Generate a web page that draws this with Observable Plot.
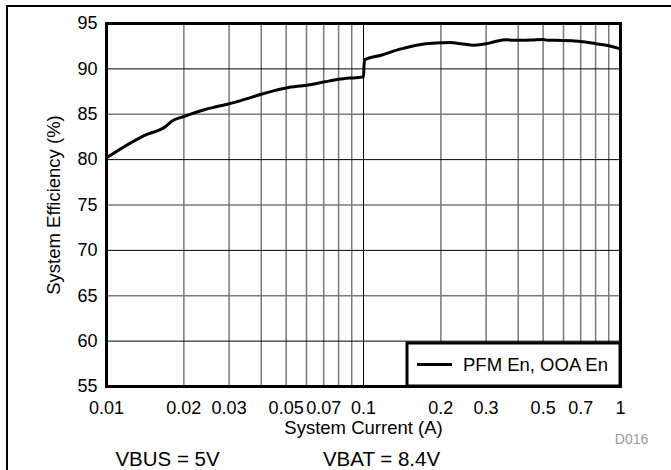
<!DOCTYPE html>
<html>
<head>
<meta charset="utf-8">
<script src="https://cdn.jsdelivr.net/npm/d3@7"></script>
<script src="https://cdn.jsdelivr.net/npm/@observablehq/plot@0.6"></script>
<style>
  html, body { margin: 0; padding: 0; background: #fff; }
  body { width: 671px; height: 470px; position: relative; overflow: hidden; font-family: "Liberation Sans", Arial, sans-serif; }
  #outer { position: absolute; left: 6px; top: 5px; right: -4px; bottom: -4px; border-top: 2px solid #000; border-left: 2px solid #000; }
  #chart { position: absolute; left: 0; top: 0; }
</style>
</head>
<body>
<div id="outer"></div>
<div id="chart"></div>
<script>
// Data
const current = [0.010, 0.014, 0.017, 0.018, 0.020, 0.024, 0.027, 0.030, 0.035, 0.040, 0.045, 0.050, 0.060, 0.070, 0.080, 0.090, 0.100, 0.1005, 0.101, 0.117, 0.140, 0.172, 0.200, 0.218, 0.240, 0.270, 0.300, 0.326, 0.360, 0.380, 0.400, 0.450, 0.500, 0.520, 0.600, 0.700, 0.800, 0.900, 1.000];
const efficiency = [80.2, 82.65, 83.65, 84.25, 84.75, 85.5, 85.85, 86.15, 86.7, 87.2, 87.6, 87.9, 88.2, 88.55, 88.85, 89.0, 89.1, 90.4, 91.0, 91.5, 92.2, 92.75, 92.87, 92.92, 92.76, 92.6, 92.76, 93.02, 93.22, 93.15, 93.15, 93.18, 93.24, 93.15, 93.14, 93.02, 92.78, 92.55, 92.2];
const seriesNames = ["PFM En, OOA En"];

const xTickValues = [0.01, 0.02, 0.03, 0.05, 0.07, 0.1, 0.2, 0.3, 0.5, 0.7, 1];
const xTickLabels = ["0.01", "0.02", "0.03", "0.05", "0.07", "0.1", "0.2", "0.3", "0.5", "0.7", "1"];
const yTickValues = [55, 60, 65, 70, 75, 80, 85, 90, 95];
const yTickLabels = ["55", "60", "65", "70", "75", "80", "85", "90", "95"];

const xGridMinor = [0.02, 0.03, 0.04, 0.05, 0.06, 0.07, 0.08, 0.09, 0.2, 0.3, 0.4, 0.5, 0.6, 0.7, 0.8, 0.9];
const xGridMajor = [0.1];
const yGridMajor = [60, 70, 80, 90];
const yGridMinor = [65, 75, 85];

const xLabel = "System Current (A)";
const yLabel = "System Efficiency (%)";
const conditions = ["VBUS = 5V", "VBAT = 8.4V"];
const figureId = "D016";

const data = current.map((c, i) => ({current: c, efficiency: efficiency[i]}));
const xTicks = xTickValues.map((v, i) => ({value: v, label: xTickLabels[i]}));

const FONT = '"Liberation Sans", Arial, sans-serif';

function legendMark(index, scales, values, dimensions) {
  const {width, height, marginRight, marginBottom} = dimensions;
  const right = width - marginRight;
  const bottom = height - marginBottom;
  const w = 213, h = 43;
  const left = right - w, top = bottom - h;
  const g = d3.create("svg:g");
  g.append("rect")
    .attr("x", left).attr("y", top).attr("width", w).attr("height", h)
    .attr("fill", "#fff").attr("stroke", "#000").attr("stroke-width", 3);
  const cy = top + h / 2;
  g.append("line")
    .attr("x1", left + 10).attr("x2", left + 45).attr("y1", cy).attr("y2", cy)
    .attr("stroke", "#000").attr("stroke-width", 3);
  g.append("text")
    .attr("x", left + 56).attr("y", cy).attr("dy", "0.35em")
    .attr("text-anchor", "start")
    .attr("font-size", 18.5).attr("font-family", FONT).attr("fill", "#000")
    .text(seriesNames[0]);
  return g.node();
}

const chart = Plot.plot({
  width: 671,
  height: 470,
  marginLeft: 106,
  marginRight: 51,
  marginTop: 23,
  marginBottom: 84,
  style: {fontFamily: FONT, fontSize: "18px", background: "transparent", color: "#000", overflow: "visible"},
  x: {type: "log", domain: [0.01, 1], axis: null},
  y: {domain: [55, 95]},
  marks: [
    Plot.ruleX(xGridMinor, {x: d => d, stroke: "#7a7a7a", strokeWidth: 1.5}),
    Plot.ruleY(yGridMinor, {y: d => d, stroke: "#7a7a7a", strokeWidth: 1.5}),
    Plot.ruleY(yGridMajor, {y: d => d, stroke: "#000", strokeWidth: 1}),
    Plot.ruleX(xGridMajor, {x: d => d, stroke: "#000", strokeWidth: 1}),
    Plot.line(data, {x: "current", y: "efficiency", stroke: "#000", strokeWidth: 3, curve: "monotone-x"}),
    legendMark,
    Plot.frame({stroke: "#000", strokeWidth: 3}),
    Plot.text(xTicks, {x: "value", text: "label", frameAnchor: "bottom", dy: 22, lineAnchor: "middle", textAnchor: "middle", fontSize: 18, fill: "#000"}),
    Plot.axisY({ticks: yTickValues, tickFormat: d => yTickLabels[yTickValues.indexOf(d)], tickSize: 0, tickPadding: 9, label: null, fontSize: 18}),
    Plot.text([xLabel], {frameAnchor: "bottom", dy: 42, lineAnchor: "middle", textAnchor: "middle", fontSize: 18.5, fill: "#000"}),
    Plot.text([yLabel], {frameAnchor: "left", dx: -52, rotate: -90, lineAnchor: "middle", textAnchor: "middle", fontSize: 18.5, fill: "#000"}),
    Plot.text([conditions[0]], {frameAnchor: "bottom-left", dx: 61, dy: 73, lineAnchor: "middle", textAnchor: "middle", fontSize: 20.5, fill: "#000"}),
    Plot.text([conditions[1]], {frameAnchor: "bottom-left", dx: 275, dy: 73, lineAnchor: "middle", textAnchor: "middle", fontSize: 20.5, fill: "#000"}),
    Plot.text([figureId], {frameAnchor: "bottom-right", dx: 11, dy: 53, lineAnchor: "middle", textAnchor: "middle", fontSize: 14, fill: "#999"})
  ]
});

document.getElementById("chart").appendChild(chart);
</script>
</body>
</html>
